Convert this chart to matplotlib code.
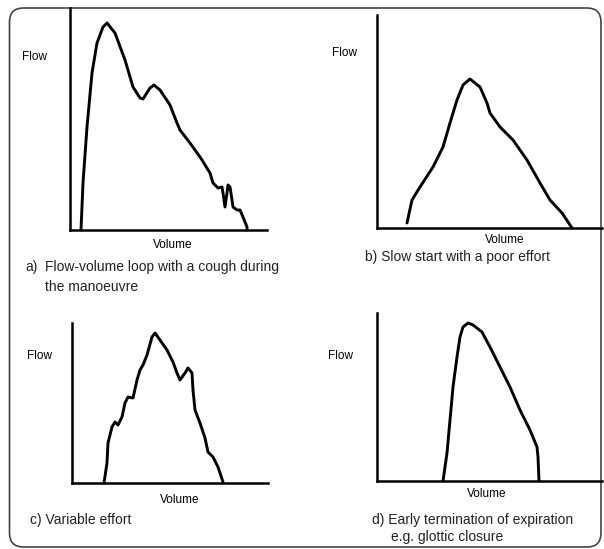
import matplotlib.pyplot as plt
from matplotlib.patches import FancyBboxPatch

plt.rcParams['font.family'] = ['Liberation Sans', 'DejaVu Sans']

# volumen / flujo (unidades arbitrarias desde el origen)
vol_a = [11, 13, 17, 22, 27, 33, 37, 45, 55, 63, 70, 73, 80, 84, 90, 100, 107, 110,
         120, 130, 132, 140, 143, 148, 152, 153, 155, 157, 158, 160, 162, 163, 167,
         170, 173, 177, 177]
flow_a = [0, 47, 103, 157, 187, 203, 207, 197, 170, 143, 132, 131, 142, 145, 140, 125,
          107, 100, 87, 73, 70, 57, 47, 42, 43, 37, 23, 37, 45, 43, 30, 23, 20, 20, 13, 3, 0]

vol_b = [30, 35, 43, 56, 66, 73, 80, 86, 93, 103, 110, 113, 123, 136, 150, 163, 173, 185, 195]
flow_b = [5, 28, 41, 61, 81, 105, 128, 143, 149, 141, 125, 115, 101, 88, 68, 45, 28, 15, 0]

vol_c = [32, 35, 36, 40, 43, 46, 50, 53, 56, 61, 65, 68, 71, 75, 80, 83, 88, 95, 101,
         105, 108, 113, 116, 120, 121, 123, 128, 133, 136, 141, 146, 151]
flow_c = [0, 20, 40, 56, 61, 58, 66, 80, 86, 85, 103, 113, 118, 128, 146, 150, 143, 133,
          121, 110, 103, 110, 115, 110, 93, 73, 60, 45, 31, 26, 16, 1]

vol_d = [66, 70, 73, 76, 80, 83, 86, 91, 96, 105, 113, 123, 133, 143, 153, 160, 161, 162]
flow_d = [0, 28, 61, 94, 124, 144, 154, 158, 156, 149, 134, 114, 94, 71, 51, 34, 24, 0]

W, H = 604, 549
fig = plt.figure(figsize=(W / 100, H / 100), dpi=100)

# capa de fondo en pixeles para el marco y los textos
bg = fig.add_axes([0, 0, 1, 1])
bg.set_xlim(0, W)
bg.set_ylim(H, 0)
bg.axis('off')
bg.add_patch(FancyBboxPatch((9.5, 8), 591.5, 539, boxstyle="round,pad=0,rounding_size=14",
                            fill=False, edgecolor='#444444', linewidth=1.2))

# (origen x, origen y, ancho, alto) en pixeles
panels = [
    (70, 230, 197, 222, vol_a, flow_a),
    (377, 228, 225, 213, vol_b, flow_b),
    (72, 483, 196, 160, vol_c, flow_c),
    (377, 481, 225, 168, vol_d, flow_d),
]

for x0, y0, w, h, v, f in panels:
    ax = fig.add_axes([x0 / W, 1 - y0 / H, w / W, h / H])
    ax.patch.set_alpha(0)
    ax.plot(v, f, color='black', linewidth=2.1, solid_joinstyle='round',
            solid_capstyle='round', clip_on=False)
    ax.set_xlim(0, w)
    ax.set_ylim(0, h)
    ax.set_xticks([])
    ax.set_yticks([])
    for s in ['top', 'right']:
        ax.spines[s].set_visible(False)
    for s in ['left', 'bottom']:
        ax.spines[s].set_linewidth(1.8)

lab = dict(fontsize=8.5, color='black', va='center')
bg.text(22, 57, "Flow", ha='left', **lab)
bg.text(332, 53, "Flow", ha='left', **lab)
bg.text(27, 356, "Flow", ha='left', **lab)
bg.text(328, 356, "Flow", ha='left', **lab)
bg.text(173, 245, "Volume", ha='center', **lab)
bg.text(505, 240, "Volume", ha='center', **lab)
bg.text(180, 500, "Volume", ha='center', **lab)
bg.text(487, 494, "Volume", ha='center', **lab)

cap = dict(fontsize=10, color='#222222', ha='left', va='center')
bg.text(25, 267, "a)", **cap)
bg.text(45, 267, "Flow-volume loop with a cough during", **cap)
bg.text(45, 287, "the manoeuvre", **cap)
bg.text(365, 257, "b) Slow start with a poor effort", **cap)
bg.text(30, 520, "c) Variable effort", **cap)
bg.text(372, 520, "d) Early termination of expiration", **cap)
bg.text(391, 537, "e.g. glottic closure", **cap)

fig.savefig('out.png', dpi=100)
plt.close(fig)
